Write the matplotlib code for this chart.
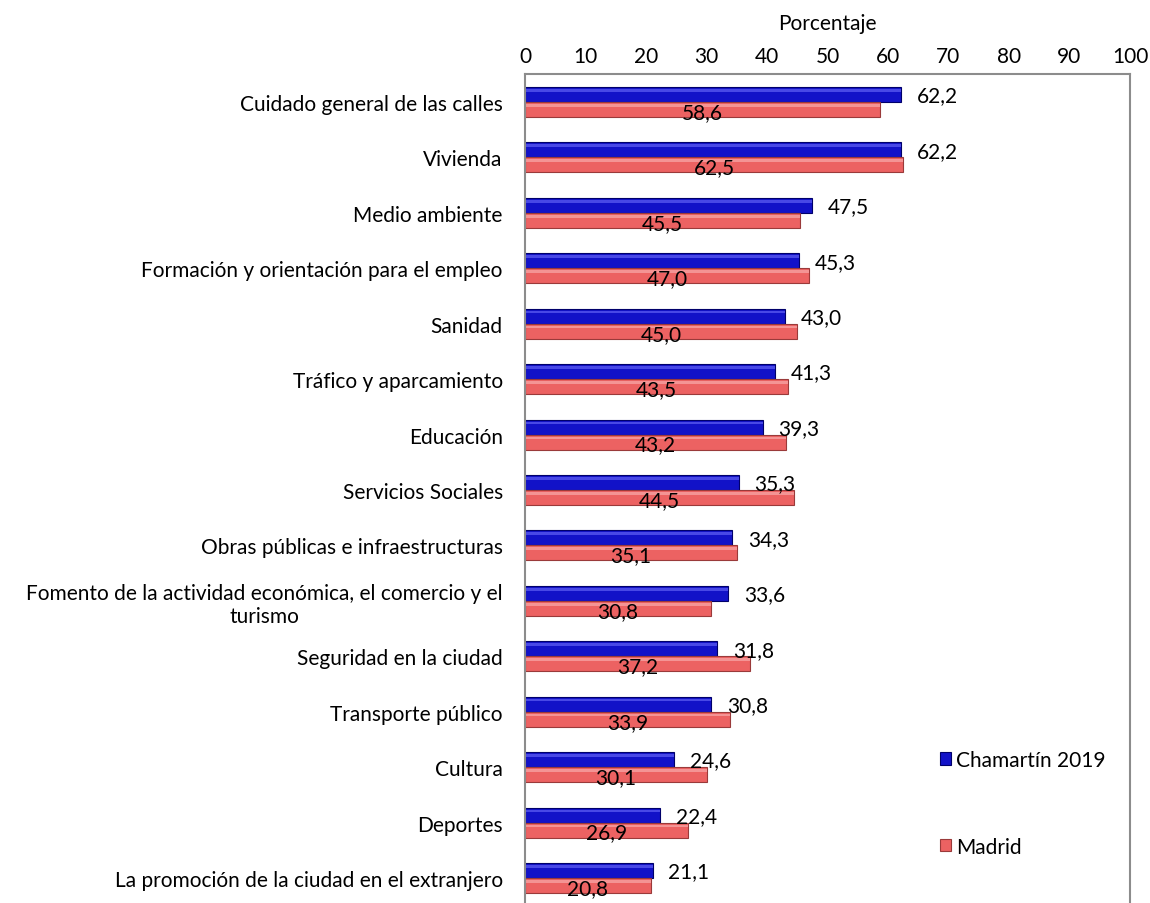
import numpy as np
import matplotlib
matplotlib.use('Agg')
import matplotlib.pyplot as plt

plt.rcParams['font.family'] = ['Lato', 'DejaVu Sans']

# Datos
categorias = ['Cuidado general de las calles', 'Vivienda', 'Medio ambiente',
              'Formación y orientación para el empleo', 'Sanidad',
              'Tráfico y aparcamiento', 'Educación', 'Servicios Sociales',
              'Obras públicas e infraestructuras',
              'Fomento de la actividad económica, el comercio y el\nturismo',
              'Seguridad en la ciudad', 'Transporte público', 'Cultura',
              'Deportes', 'La promoción de la ciudad en el extranjero']
chamartin = [62.2, 62.2, 47.5, 45.3, 43.0, 41.3, 39.3, 35.3, 34.3, 33.6,
             31.8, 30.8, 24.6, 22.4, 21.1]
madrid = [58.6, 62.5, 45.5, 47.0, 45.0, 43.5, 43.2, 44.5, 35.1, 30.8,
          37.2, 33.9, 30.1, 26.9, 20.8]
ticks_x = [0, 10, 20, 30, 40, 50, 60, 70, 80, 90, 100]

def coma(v):
    return ('%.1f' % v).replace('.', ',')

fs = 15
fig = plt.figure(figsize=(11.5, 9.04), dpi=100)
ax = fig.add_axes([0.4565, -0.003, 0.5261, 0.9197])

y = np.arange(len(categorias))
h = 0.27
ax.barh(y - h/2, chamartin, height=h, color='#1212c8', edgecolor='#00006a',
        linewidth=0.8, label='Chamartín 2019')
ax.barh(y + h/2, madrid, height=h, color='#ec6262', edgecolor='#9a3a3a',
        linewidth=0.8, label='Madrid')
# brillo superior de las barras
ax.barh(y - h + 0.06, chamartin, height=0.05, color='#4848e6', linewidth=0)
ax.barh(y + 0.06, madrid, height=0.05, color='#f49494', linewidth=0)

for yi, v in zip(y, chamartin):
    ax.text(v + 2.6, yi - 0.12, coma(v), ha='left', va='center', fontsize=fs)
for yi, v in zip(y, madrid):
    ax.text(v / 2, yi + 0.18, coma(v), ha='center', va='center', fontsize=fs)

ax.set_xlim(0, 100)
ax.set_ylim(len(categorias) - 0.5, -0.5)
ax.set_yticks(y)
ax.set_yticklabels(categorias, fontsize=fs, multialignment='center')
ax.set_xticks(ticks_x)
ax.xaxis.tick_top()
ax.xaxis.set_label_position('top')
ax.tick_params(axis='x', length=0, labelsize=fs, pad=6)
ax.tick_params(axis='y', length=0, pad=16)
ax.set_xlabel('Porcentaje', fontsize=fs, labelpad=12)
for s in ax.spines.values():
    s.set_color('#8c8c8c')
    s.set_linewidth(1.5)

handles, labels = ax.get_legend_handles_labels()
ax.legend(handles[:2], labels[:2], loc='upper left', bbox_to_anchor=(0.655, 0.21),
          frameon=False, fontsize=fs, handlelength=0.55, handleheight=0.55,
          handletextpad=0.2, labelspacing=3.2)

plt.savefig('out.png', dpi=100)
